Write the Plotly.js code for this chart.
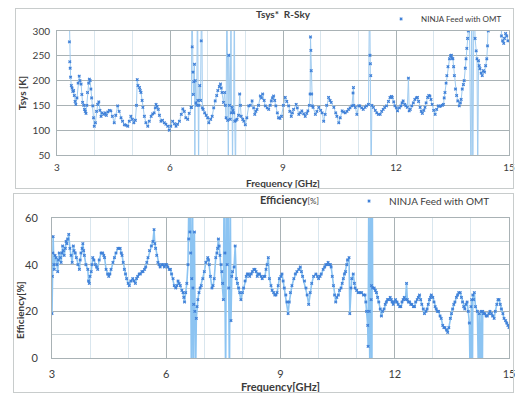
<!DOCTYPE html>
<html>
<head>
<meta charset="utf-8">
<script src="https://cdn.plot.ly/plotly-3.0.1.min.js"></script>
<style>
  html, body { margin: 0; padding: 0; background: #ffffff; width: 515px; height: 396px; overflow: hidden; position: relative; }
  #top { position: absolute; left: 0; top: 0; width: 515px; height: 191px; }
  #bot { position: absolute; left: 0; top: 191px; width: 515px; height: 205px; }
  .frame { position: absolute; border: 1px solid #c8cccc; background: transparent; pointer-events: none; z-index: 5; }
  #frameTop { left: 15px; top: 8px; width: 497px; height: 179px; }
  #frameBot { left: 13px; top: 193px; width: 499px; height: 198px; }
</style>
</head>
<body>
<div id="top"></div>
<div id="bot"></div>
<div class="frame" id="frameTop"></div>
<div class="frame" id="frameBot"></div>
<script>
// ---------------- data ----------------
const seriesName = "NINJA Feed with OMT";
const freqTicks = [3, 6, 9, 12, 15];
const tsysTicks = [50, 100, 150, 200, 250, 300];
const effTicks = [0, 20, 40, 60];

// Tsys* R-Sky [K] vs frequency [GHz]  (values beyond the axis range are the out-of-range spikes)
const tsysFreq = [3.31,3.33,3.34,3.35,3.36,3.38,3.40,3.42,3.44,3.46,3.48,3.50,3.53,3.56,3.59,3.61,3.64,3.66,3.68,3.71,
3.73,3.75,3.77,3.79,3.81,3.84,3.86,3.88,3.90,3.92,3.95,3.97,3.99,4.02,4.05,4.08,4.11,4.14,4.17,4.20,
4.24,4.28,4.31,4.35,4.39,4.43,4.47,4.52,4.56,4.61,4.65,4.70,4.74,4.79,4.83,4.88,4.92,4.96,5.00,5.04,
5.08,5.11,5.13,5.15,5.19,5.21,5.23,5.26,5.28,5.32,5.36,5.41,5.45,5.50,5.54,5.58,5.61,5.63,5.66,5.69,
5.72,5.76,5.80,5.85,5.89,5.94,5.98,6.02,6.07,6.12,6.16,6.20,6.25,6.30,6.34,6.38,6.42,6.47,6.51,6.56,
6.57,6.58,6.59,6.61,6.62,6.63,6.65,6.66,6.67,6.69,6.71,6.73,6.74,6.76,6.77,6.79,6.81,6.83,6.84,6.86,
6.88,6.92,6.96,7.00,7.03,7.08,7.12,7.16,7.20,7.24,7.27,7.31,7.34,7.36,7.38,7.42,7.45,7.47,7.49,7.51,
7.53,7.55,7.56,7.58,7.60,7.62,7.63,7.65,7.66,7.67,7.69,7.71,7.72,7.74,7.75,7.78,7.82,7.85,7.87,7.89,
7.93,7.96,8.00,8.04,8.09,8.13,8.18,8.22,8.25,8.28,8.31,8.35,8.40,8.43,8.46,8.50,8.53,8.58,8.62,8.66,
8.69,8.72,8.75,8.78,8.81,8.85,8.88,8.92,8.96,9.01,9.06,9.10,9.15,9.18,9.22,9.25,9.28,9.35,9.38,9.42,
9.46,9.50,9.55,9.59,9.63,9.66,9.70,9.72,9.73,9.74,9.75,9.76,9.78,9.80,9.86,9.90,9.95,10.00,10.04,10.08,
10.12,10.16,10.21,10.25,10.28,10.35,10.40,10.43,10.48,10.52,10.57,10.61,10.65,10.70,10.74,10.78,10.83,10.86,10.87,10.88,
10.92,10.96,11.01,11.04,11.09,11.13,11.18,11.22,11.27,11.30,11.31,11.32,11.33,11.34,11.36,11.40,11.45,11.49,11.53,11.58,
11.62,11.66,11.70,11.75,11.80,11.84,11.88,11.90,11.94,11.97,12.01,12.04,12.09,12.13,12.16,12.19,12.23,12.26,12.30,12.33,
12.35,12.38,12.42,12.46,12.50,12.54,12.57,12.60,12.64,12.67,12.70,12.74,12.77,12.80,12.84,12.87,12.90,12.93,12.96,13.00,
13.04,13.08,13.12,13.16,13.19,13.23,13.26,13.28,13.30,13.33,13.35,13.38,13.42,13.45,13.47,13.49,13.51,13.53,13.55,13.58,
13.61,13.64,13.68,13.71,13.73,13.76,13.79,13.81,13.84,13.86,13.88,13.90,13.92,13.94,13.99,14.01,14.04,14.07,14.10,14.13,
14.15,14.17,14.19,14.21,14.23,14.26,14.29,14.32,14.35,14.38,14.41,14.43,14.45,14.47,14.78,14.80,14.83,14.86,14.88,14.91,
14.94,14.97];
const tsysVal = [400,278,238,225,207,190,185,178,180,170,158,152,165,195,209,200,193,172,156,150,
142,138,134,150,176,195,203,200,183,165,149,125,108,115,138,152,157,140,128,135,
132,135,130,137,140,139,128,115,130,149,138,125,118,111,110,108,118,128,122,115,
120,150,202,190,186,180,176,160,146,128,115,108,118,128,133,135,145,152,148,142,
130,118,120,115,112,108,100,108,118,113,108,112,118,132,143,138,125,122,134,146,
146,400,268,217,172,198,233,0,200,155,150,400,160,0,150,190,160,280,400,145,
142,135,130,125,115,122,128,145,159,170,180,188,193,185,176,156,176,150,125,400,
120,0,251,150,122,400,135,146,0,140,135,400,118,0,120,122,130,173,150,128,
122,118,111,125,149,150,159,145,132,138,142,150,169,165,173,160,149,145,142,150,
159,165,169,160,149,135,125,124,128,150,166,158,149,138,128,135,142,152,145,132,
135,139,133,128,134,139,150,173,288,261,220,173,149,146,132,138,146,140,135,118,
132,150,166,160,156,146,135,128,115,125,139,137,135,138,142,145,149,175,186,150,
146,132,149,149,145,142,146,149,152,400,251,234,210,0,150,146,140,135,132,132,
138,142,146,149,158,166,168,166,157,149,145,139,145,149,155,159,152,149,146,205,
139,142,149,155,162,165,166,158,146,138,134,140,146,155,166,170,169,162,152,140,
132,142,149,148,149,150,152,165,176,195,210,228,244,250,251,245,244,228,210,183,
170,159,149,155,162,183,192,200,225,244,265,285,300,400,0,400,0,400,285,260,
244,0,240,230,224,215,210,220,217,230,244,270,300,400,400,290,280,275,285,295,
290,280];

// Efficiency [%] vs frequency [GHz]  (values beyond 0..60 are the out-of-range spikes)
const effFreq = [3.00,3.01,3.02,3.03,3.05,3.06,3.08,3.11,3.13,3.15,3.17,3.19,3.22,3.24,3.26,3.28,3.30,3.32,3.35,3.37,
3.39,3.41,3.44,3.47,3.50,3.53,3.56,3.58,3.61,3.64,3.68,3.72,3.74,3.76,3.79,3.81,3.83,3.85,3.89,3.94,
3.96,3.98,4.00,4.03,4.05,4.07,4.10,4.14,4.17,4.20,4.24,4.29,4.33,4.36,4.38,4.42,4.46,4.49,4.52,4.55,
4.60,4.64,4.68,4.73,4.76,4.79,4.82,4.84,4.87,4.90,4.93,4.96,5.00,5.03,5.07,5.12,5.15,5.19,5.22,5.25,
5.29,5.32,5.36,5.39,5.43,5.46,5.49,5.52,5.56,5.61,5.65,5.68,5.70,5.72,5.75,5.78,5.81,5.84,5.88,5.91,
5.95,5.98,6.01,6.04,6.08,6.11,6.14,6.18,6.21,6.25,6.28,6.31,6.34,6.37,6.41,6.44,6.46,6.48,6.51,6.54,
6.57,6.59,6.60,6.62,6.63,6.64,6.66,6.67,6.69,6.70,6.71,6.72,6.74,6.75,6.77,6.79,6.81,6.83,6.86,6.89,
6.92,6.96,7.00,7.04,7.09,7.11,7.13,7.16,7.20,7.23,7.26,7.30,7.33,7.35,7.37,7.39,7.41,7.44,7.46,7.48,
7.50,7.52,7.54,7.56,7.58,7.60,7.62,7.64,7.66,7.68,7.70,7.72,7.74,7.78,7.81,7.84,7.87,7.90,7.93,7.96,
8.00,8.03,8.07,8.10,8.13,8.16,8.19,8.23,8.26,8.30,8.33,8.36,8.39,8.42,8.45,8.49,8.52,8.56,8.59,8.62,
8.65,8.68,8.71,8.75,8.78,8.82,8.85,8.88,8.91,8.94,8.97,9.01,9.04,9.07,9.10,9.14,9.17,9.20,9.23,9.26,
9.30,9.35,9.39,9.43,9.48,9.52,9.55,9.58,9.63,9.67,9.70,9.74,9.78,9.82,9.87,9.93,9.97,10.00,10.04,10.07,
10.12,10.16,10.19,10.22,10.25,10.28,10.31,10.33,10.36,10.39,10.42,10.45,10.48,10.52,10.55,10.59,10.62,10.65,10.68,10.71,
10.74,10.76,10.80,10.82,10.85,10.87,10.91,10.94,10.96,11.00,11.04,11.09,11.13,11.18,11.22,11.24,11.26,11.29,11.30,11.32,
11.33,11.35,11.37,11.38,11.39,11.40,11.41,11.42,11.46,11.49,11.52,11.55,11.58,11.62,11.65,11.68,11.72,11.75,11.78,11.81,
11.84,11.88,11.91,11.93,11.96,11.99,12.02,12.06,12.09,12.13,12.16,12.19,12.22,12.25,12.28,12.31,12.33,12.36,12.39,12.42,
12.45,12.49,12.52,12.55,12.59,12.62,12.65,12.68,12.71,12.75,12.78,12.82,12.85,12.88,12.91,12.94,12.96,13.00,13.03,13.06,
13.09,13.12,13.15,13.19,13.22,13.26,13.29,13.32,13.36,13.39,13.42,13.46,13.49,13.52,13.55,13.58,13.62,13.65,13.68,13.72,
13.75,13.78,13.81,13.84,13.87,13.90,13.93,13.96,13.98,14.00,14.02,14.04,14.05,14.07,14.09,14.12,14.17,14.20,14.22,14.25,
14.27,14.30,14.31,14.33,14.37,14.40,14.43,14.47,14.50,14.54,14.57,14.61,14.64,14.68,14.71,14.74,14.77,14.80,14.84,14.87,
14.91,14.94,14.97,15.00];
const effVal = [19,35,45,52,40,38,44,43,40,37,42,45,43,41,45,48,46,44,47,50,
49,51,53,47,44,41,48,46,45,43,40,38,42,45,47,49,46,44,40,38,
33,32,35,37,40,43,42,40,39,38,42,45,45,44,43,38,36,35,36,38,
41,43,45,47,47,47,45,44,41,38,36,34,32,31,33,34,33,32,34,35,
36,36,37,37,38,39,41,43,46,48,50,55,49,47,44,41,40,39,40,40,
39,40,40,39,38,38,36,34,31,30,31,33,32,31,29,28,26,24,28,32,
40,51,75,54,75,45,-10,34,75,30,-10,23,54,20,-10,17,22,25,28,30,
31,34,37,41,43,42,40,35,30,31,34,43,45,47,51,48,44,40,37,32,
25,75,45,-10,75,40,75,30,-10,75,16,35,37,39,48,34,32,30,28,25,
28,30,33,35,36,36,35,36,37,38,38,37,35,36,36,35,34,35,35,38,
40,43,34,31,29,28,27,27,28,31,34,35,36,33,30,27,24,19,24,28,
31,34,36,37,38,39,37,35,33,30,27,23,28,32,35,36,35,34,35,36,
38,39,40,40,41,40,40,39,35,31,27,24,26,27,29,30,32,34,36,37,
40,42,43,19,30,34,36,32,30,29,28,28,28,27,27,24,20,14,5,75,
20,-10,75,25,31,-10,75,30,30,29,28,26,24,21,18,20,21,23,24,25,
25,26,25,24,23,24,25,24,23,22,22,24,25,26,25,32,25,24,24,23,
23,22,22,24,25,26,27,25,23,21,19,20,21,23,25,26,27,26,24,22,
21,20,20,18,17,14,13,13,12,11,13,17,19,21,23,24,26,27,28,28,
26,24,22,21,23,24,20,15,-10,22,25,-10,27,25,28,22,20,-10,19,-10,
20,-10,20,19,19,18,18,19,20,19,18,17,20,23,25,25,23,21,19,17,
16,15,14,13];

// ---------------- styling ----------------
const FONT = "Lato, 'Open Sans', 'DejaVu Sans', sans-serif";
const TXT = "#3c3c3c";
const GRID_DARK = "#a9b2b5";
const GRID_LIGHT = "#d9e6ee";
const LINE_COL = "#9fcbf0";
const MARK_COL = "#3f80d8";

function traces(fx, fy, lineW, lineCol) {
  return [
    { x: fx, y: fy, type: "scatter", mode: "lines", showlegend: false,
      line: { color: lineCol, width: lineW }, hoverinfo: "skip" },
    { x: fx, y: fy, type: "scatter", mode: "markers", name: seriesName, showlegend: true,
      marker: { symbol: "x", size: 3, color: MARK_COL } }
  ];
}

const cfg = { staticPlot: true, displayModeBar: false };

// ---------- top chart: Tsys ----------
const topLayout = {
  width: 515, height: 191,
  margin: { l: 57, r: 6, t: 31, b: 36, autoexpand: false },
  paper_bgcolor: "rgba(0,0,0,0)", plot_bgcolor: "#ffffff",
  font: { family: FONT, color: TXT, size: 10 },
  showlegend: true,
  legend: { x: 0.717, y: 1.097, xanchor: "left", yanchor: "middle", orientation: "h",
            font: { size: 8, color: TXT }, bgcolor: "rgba(0,0,0,0)", itemwidth: 30 },
  xaxis: {
    range: [3, 15], tickvals: freqTicks, ticktext: freqTicks.map(String),
    showgrid: true, gridcolor: GRID_DARK, gridwidth: 1,
    minor: { dtick: 1, tick0: 3, showgrid: true, gridcolor: GRID_LIGHT, gridwidth: 1 },
    showline: true, linecolor: GRID_DARK, mirror: true, zeroline: false,
    ticks: "", tickfont: { size: 10, color: TXT }, ticklabelstandoff: 3, ticklabeloverflow: "allow",
    title: { text: "<b>Frequency [GHz]</b>", font: { size: 10, color: TXT }, standoff: 7 }
  },
  yaxis: {
    range: [50, 300], tickvals: tsysTicks, ticktext: tsysTicks.map(String),
    showgrid: true, gridcolor: GRID_DARK, gridwidth: 1,
    showline: true, linecolor: GRID_DARK, mirror: true, zeroline: false,
    ticks: "", tickfont: { size: 10, color: TXT }, ticklabelstandoff: 4,
    title: { text: "<b>Tsys [K]</b>", font: { size: 10, color: TXT }, standoff: 4 }
  },
  annotations: [
    { text: "<b>Tsys*  R-Sky</b>", xref: "paper", yref: "paper", x: 0.5, y: 1.137,
      xanchor: "center", yanchor: "middle", showarrow: false, font: { size: 10, color: TXT } }
  ]
};
Plotly.newPlot("top", traces(tsysFreq, tsysVal, 1, LINE_COL), topLayout, cfg);

// ---------- bottom chart: Efficiency ----------
const botLayout = {
  width: 515, height: 205,
  margin: { l: 52, r: 6, t: 27, b: 38, autoexpand: false },
  paper_bgcolor: "rgba(0,0,0,0)", plot_bgcolor: "#ffffff",
  font: { family: FONT, color: TXT, size: 11 },
  showlegend: true,
  legend: { x: 0.65, y: 1.121, xanchor: "left", yanchor: "middle", orientation: "h",
            font: { size: 10, color: TXT }, bgcolor: "rgba(0,0,0,0)", itemwidth: 30 },
  xaxis: {
    range: [3, 15], tickvals: freqTicks, ticktext: freqTicks.map(String),
    showgrid: true, gridcolor: GRID_DARK, gridwidth: 1,
    minor: { dtick: 1, tick0: 3, showgrid: true, gridcolor: GRID_LIGHT, gridwidth: 1 },
    showline: true, linecolor: GRID_DARK, mirror: true, zeroline: false,
    ticks: "", tickfont: { size: 11, color: TXT }, ticklabelstandoff: 6, ticklabeloverflow: "allow",
    title: { text: "<b>Frequency[GHz]</b>", font: { size: 11, color: TXT }, standoff: 0 }
  },
  yaxis: {
    range: [0, 60], tickvals: effTicks, ticktext: effTicks.map(String),
    showgrid: true, gridcolor: GRID_DARK, gridwidth: 1,
    minor: { dtick: 10, tick0: 0, showgrid: true, gridcolor: "#c9d3d6", gridwidth: 1 },
    showline: true, linecolor: GRID_DARK, mirror: true, zeroline: false,
    ticks: "", tickfont: { size: 11, color: TXT }, ticklabelstandoff: 11
  },
  annotations: [
    { text: "<b>Efficiency</b><span style='font-size:8px'>[%]</span>", xref: "paper", yref: "paper",
      x: 0.52, y: 1.129, xanchor: "center", yanchor: "middle", showarrow: false,
      font: { size: 11, color: TXT } },
    { text: "<b>Efficiency[%]</b>", xref: "paper", yref: "paper", x: 0, y: 0.343,
      xanchor: "center", yanchor: "middle", textangle: -90, xshift: -32, showarrow: false,
      font: { size: 10, color: TXT } }
  ]
};
Plotly.newPlot("bot", traces(effFreq, effVal, 1.6, "#8cc4f2"), botLayout, cfg);
</script>
</body>
</html>
